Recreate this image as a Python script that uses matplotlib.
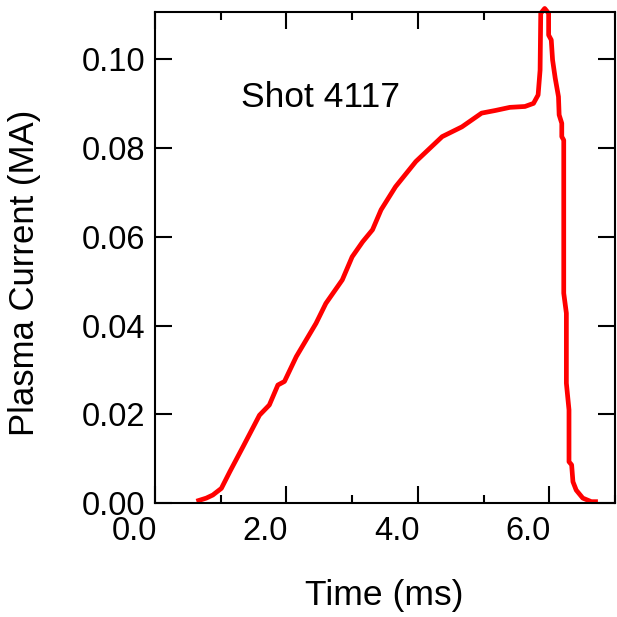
import numpy as np
import matplotlib
matplotlib.use("Agg")
import matplotlib.pyplot as plt
import matplotlib.transforms as mtransforms
from matplotlib.ticker import MultipleLocator, FormatStrFormatter

plt.rcParams['font.family'] = ['Liberation Sans', 'DejaVu Sans']

# Shot 4117 plasma current trace
time_ms = [0.63, 0.78, 0.88, 1.01, 1.14, 1.34, 1.59, 1.74, 1.87, 1.97,
           2.15, 2.45, 2.60, 2.85, 3.00, 3.16, 3.31, 3.44, 3.66, 3.97,
           4.37, 4.67, 4.97, 5.18, 5.40, 5.63, 5.76, 5.83, 5.86, 5.87,
           5.93, 5.99, 5.99, 6.03, 6.05, 6.09, 6.14, 6.15, 6.19, 6.19,
           6.22, 6.22, 6.26, 6.26, 6.30, 6.30, 6.34, 6.36, 6.41, 6.51,
           6.64, 6.74]
current_ma = [0.0004, 0.0011, 0.0018, 0.0033, 0.0071, 0.0127, 0.0198, 0.0221, 0.0266, 0.0274,
              0.0330, 0.0405, 0.0450, 0.0503, 0.0555, 0.0589, 0.0616, 0.0661, 0.0713, 0.0770,
              0.0826, 0.0848, 0.0879, 0.0885, 0.0892, 0.0894, 0.0901, 0.0920, 0.0976, 0.1104,
              0.1115, 0.1104, 0.1055, 0.1044, 0.0999, 0.0958, 0.0916, 0.0875, 0.0856, 0.0826,
              0.0818, 0.0473, 0.0428, 0.0270, 0.0210, 0.0093, 0.0086, 0.0048, 0.0029, 0.0011,
              0.0003, 0.0003]

fig = plt.figure(figsize=(6.17, 6.17), dpi=100)
ax = fig.add_axes([155 / 617, 1 - 503 / 617, 460 / 617, 491 / 617])

ax.plot(time_ms, current_ma, color='#ff0000', lw=3.4, clip_on=False,
        solid_joinstyle='round', solid_capstyle='butt')

ax.set_xlim(0, 7)
ax.set_ylim(0, 0.1107)
ax.xaxis.set_major_locator(MultipleLocator(2))
ax.xaxis.set_minor_locator(MultipleLocator(1))
ax.yaxis.set_major_locator(MultipleLocator(0.02))
ax.xaxis.set_major_formatter(FormatStrFormatter('%.1f'))
ax.yaxis.set_major_formatter(FormatStrFormatter('%.2f'))

for s in ax.spines.values():
    s.set_linewidth(1.5)
ax.tick_params(which='both', direction='in', top=True, right=True,
               width=1.5, labelsize=23.5, colors='black')
ax.tick_params(which='major', length=12)
ax.tick_params(which='minor', length=6)
ax.tick_params(axis='x', pad=9)
ax.tick_params(axis='y', pad=7)

# x labels sit a bit left of their ticks in the original
shift = mtransforms.ScaledTranslation(-0.21, 0, fig.dpi_scale_trans)
for lab in ax.get_xticklabels():
    lab.set_transform(lab.get_transform() + shift)

fig.text(384 / 617, 1 - 596 / 617, 'Time (ms)', fontsize=25.5, ha='center', va='center')
fig.text(25 / 617, 1 - 273 / 617, 'Plasma Current (MA)', fontsize=25,
         ha='center', va='center', rotation=90)
fig.text(241 / 617, 1 - 107 / 617, 'Shot 4117', fontsize=25.5, ha='left', va='baseline')

fig.savefig('out.png', dpi=100)
